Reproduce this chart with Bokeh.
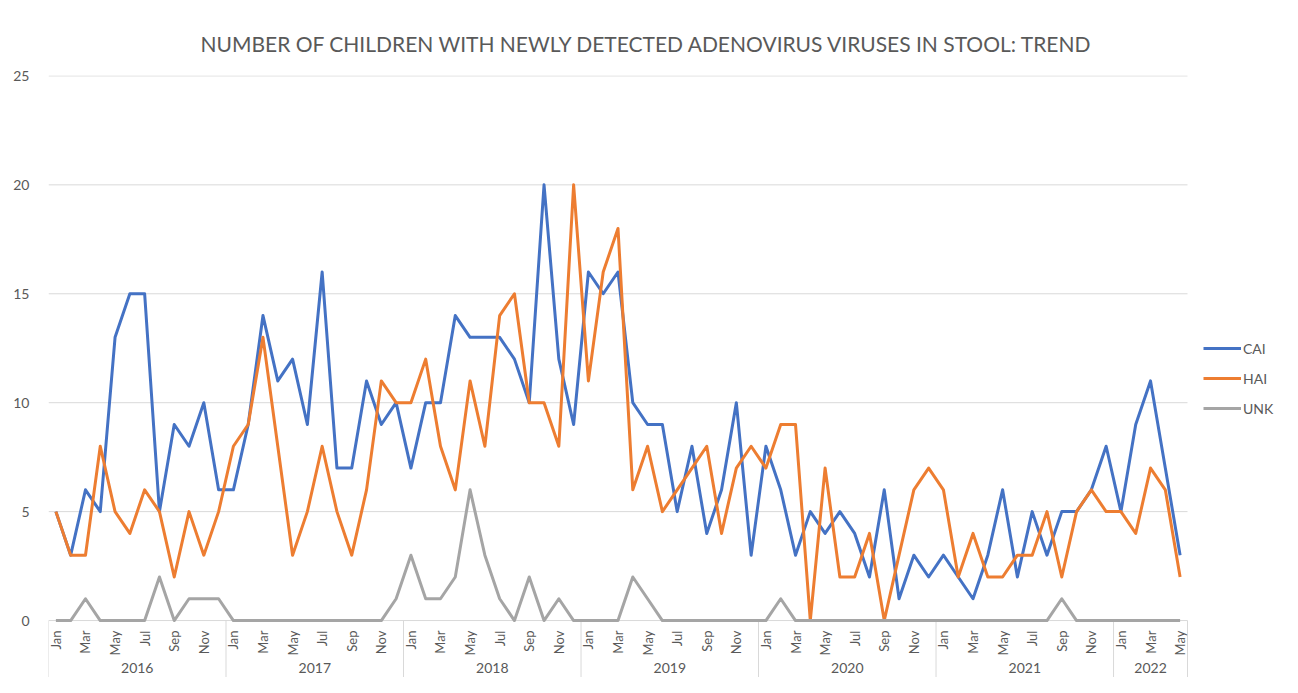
import math
from bokeh.plotting import figure
from bokeh.models import Range1d, FixedTicker, Legend, LegendItem
from bokeh.embed import file_html
from bokeh.resources import INLINE
from bokeh.core.properties import value

# ---------------- data ----------------
years = ["2016", "2017", "2018", "2019", "2020", "2021", "2022"]
months_per_year = [12, 12, 12, 12, 12, 12, 5]
month_names = ["Jan", "Feb", "Mar", "Apr", "May", "Jun",
               "Jul", "Aug", "Sep", "Oct", "Nov", "Dec"]

cai = [5, 3, 6, 5, 13, 15, 15, 5, 9, 8, 10, 6,
       6, 9, 14, 11, 12, 9, 16, 7, 7, 11, 9, 10,
       7, 10, 10, 14, 13, 13, 13, 12, 10, 20, 12, 9,
       16, 15, 16, 10, 9, 9, 5, 8, 4, 6, 10, 3,
       8, 6, 3, 5, 4, 5, 4, 2, 6, 1, 3, 2,
       3, 2, 1, 3, 6, 2, 5, 3, 5, 5, 6, 8,
       5, 9, 11, 7, 3]
hai = [5, 3, 3, 8, 5, 4, 6, 5, 2, 5, 3, 5,
       8, 9, 13, 8, 3, 5, 8, 5, 3, 6, 11, 10,
       10, 12, 8, 6, 11, 8, 14, 15, 10, 10, 8, 20,
       11, 16, 18, 6, 8, 5, 6, 7, 8, 4, 7, 8,
       7, 9, 9, 0, 7, 2, 2, 4, 0, 3, 6, 7,
       6, 2, 4, 2, 2, 3, 3, 5, 2, 5, 6, 5,
       5, 4, 7, 6, 2]
unk = [0, 0, 1, 0, 0, 0, 0, 2, 0, 1, 1, 1,
       0, 0, 0, 0, 0, 0, 0, 0, 0, 0, 0, 1,
       3, 1, 1, 2, 6, 3, 1, 0, 2, 0, 1, 0,
       0, 0, 0, 2, 1, 0, 0, 0, 0, 0, 0, 0,
       0, 1, 0, 0, 0, 0, 0, 0, 0, 0, 0, 0,
       0, 0, 0, 0, 0, 0, 0, 0, 1, 0, 0, 0,
       0, 0, 0, 0, 0]
y_ticks = [0, 5, 10, 15, 20, 25]
title_text = "NUMBER OF CHILDREN WITH NEWLY DETECTED ADENOVIRUS VIRUSES IN STOOL: TREND"

# ---------------- derived positions ----------------
n = len(cai)
xs = list(range(n))
month_idx = [i % 12 for i in xs]
lab_x = [i for i in xs if month_idx[i] % 2 == 0]
lab_t = [month_names[month_idx[i]] for i in lab_x]

year_x, sep_x = [], [-0.5]
start = 0
for cnt in months_per_year:
    year_x.append(start + (cnt - 1) / 2)
    start += cnt
    sep_x.append(start - 0.5)

TXT = "#595959"
GRID = "#d9d9d9"
FONT = "Lato"

FRAME_W, FRAME_H = 1234, 602
px_per_x = 1139 / n          # width of the category area
x_end = -0.5 + FRAME_W / px_per_x
y_lo = -57 / 21.8

p = figure(frame_width=FRAME_W, frame_height=FRAME_H,
           output_backend="svg", toolbar_location=None,
           x_range=Range1d(-0.5, x_end), y_range=Range1d(y_lo, 25.02),
           x_axis_location=None, min_border_left=48, min_border_right=0,
           min_border_top=75, min_border_bottom=0)
p.outline_line_color = None
p.background_fill_color = "white"
p.border_fill_color = "white"

p.title.text = title_text
p.title.align = "left"
p.title.text_font = FONT
p.title.text_font_size = "21px"
p.title.text_font_style = "normal"
p.title.text_color = TXT
p.title.offset = 152
p.title.standoff = 40

p.yaxis.ticker = FixedTicker(ticks=y_ticks)
p.yaxis.axis_line_color = None
p.yaxis.major_tick_line_color = None
p.yaxis.minor_tick_line_color = None
p.yaxis.major_label_standoff = 13
p.yaxis.major_label_text_font = FONT
p.yaxis.major_label_text_font_size = "14px"
p.yaxis.major_label_text_color = TXT

p.xgrid.visible = False
p.ygrid.visible = False

# horizontal gridlines over the category area only
p.segment(x0=[-0.5] * len(y_ticks), y0=y_ticks, x1=[n - 0.5] * len(y_ticks), y1=y_ticks,
          line_color=GRID, line_width=1)

# category axis drawn in the frame below zero
p.segment(x0=sep_x, y0=[0] * len(sep_x), x1=sep_x, y1=[-3.2] * len(sep_x),
          line_color=GRID, line_width=1)
p.text(x=lab_x, y=[-0.46] * len(lab_x), text=lab_t, angle=math.pi / 2,
       text_align="right", text_baseline="middle", text_font=value(FONT),
       text_font_size="13px", text_color=TXT)
p.text(x=year_x, y=[-2.16] * len(year_x), text=years, text_align="center",
       text_baseline="middle", text_font=value(FONT), text_font_size="14px",
       text_color=TXT)

r_cai = p.line(xs, cai, line_color="#4472C4", line_width=3, line_join="round")
r_hai = p.line(xs, hai, line_color="#ED7D31", line_width=3, line_join="round")
r_unk = p.line(xs, unk, line_color="#A5A5A5", line_width=3, line_join="round")

legend = Legend(items=[LegendItem(label="CAI", renderers=[r_cai]),
                       LegendItem(label="HAI", renderers=[r_hai]),
                       LegendItem(label="UNK", renderers=[r_unk])],
                location=(1155, 259), orientation="vertical",
                glyph_width=38, glyph_height=20, label_height=20, spacing=10,
                label_standoff=2, padding=10, margin=0,
                label_text_font=FONT, label_text_font_size="14px",
                label_text_color=TXT, border_line_color=None,
                background_fill_alpha=0)
p.add_layout(legend)

open("out.html", "w").write(file_html(p, INLINE))
